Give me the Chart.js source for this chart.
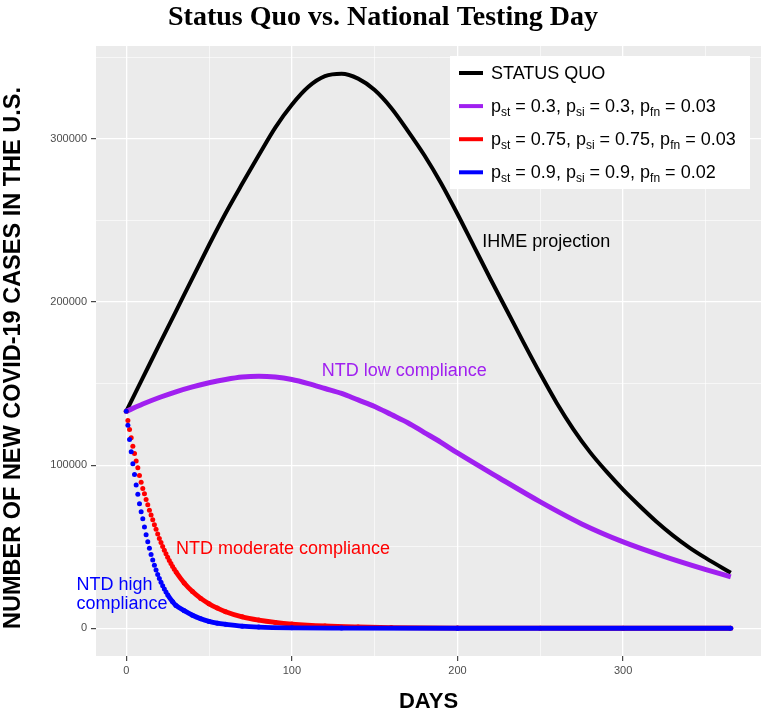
<!DOCTYPE html>
<html lang="en">
<head>
<meta charset="UTF-8">
<title>Status Quo vs. National Testing Day</title>
<script src="https://cdn.jsdelivr.net/npm/chart.js@4"></script>
<style>
    html, body { margin: 0; padding: 0; background: #ffffff; }
    #wrap { width: 765px; height: 713px; }
</style>
</head>
<body>
<div id="wrap"><canvas id="chart" width="765" height="713"></canvas></div>
<script>
    // values (new cases per day)
    const sqDays = [0, 10, 20, 35, 50, 60, 70, 80, 90, 100, 110, 120, 130, 140, 150, 160, 170, 180, 190, 200,
                    210, 220, 230, 240, 250, 260, 270, 280, 290, 300, 310, 320, 330, 340, 350, 365];
    const sqCases = [133000, 153500, 174000, 204500, 235000, 254500, 272500, 290000, 307000, 321000, 332000,
                     338500, 340000, 337000, 330000, 319000, 305000, 290000, 273000, 254000, 234000, 214000,
                     194500, 175000, 156000, 138000, 122000, 108000, 96000, 85000, 75000, 65500, 57000,
                     49500, 43000, 34000];

    const lowDays = [0, 10, 20, 30, 40, 50, 60, 70, 80, 90, 100, 110, 120, 130, 140, 150, 160, 170, 180, 190,
                     200, 225, 250, 275, 300, 325, 350, 365];
    const lowCases = [133000, 137500, 141500, 145000, 148000, 150500, 152500, 154000, 154500, 154000, 152500,
                      150000, 147000, 144000, 140000, 136000, 131000, 126000, 120000, 114000, 107500, 92300,
                      77500, 64000, 53000, 44000, 36000, 31500];

    const modDays = [0, 1, 2, 3, 4, 5, 6, 7, 8, 9, 10, 11, 12, 13, 14, 15, 16, 17, 18, 19, 20, 21, 22, 23, 24,
                     25, 26, 27, 28, 29, 30, 35, 40, 45, 50, 55, 60, 70, 80, 90, 100, 120, 140, 160, 200, 250,
                     300, 365];
    const modCases = [133000, 127400, 121900, 116800, 111600, 107200, 102500, 98400, 93700, 89600, 85700,
                      82500, 79000, 75700, 72300, 69400, 66500, 63500, 60700, 57800, 55100, 52600, 50200,
                      47900, 45700, 43600, 41600, 39700, 37900, 36200, 34600, 27800, 22500, 18300, 15000,
                      12400, 10200, 7000, 5000, 3600, 2600, 1400, 800, 450, 150, 50, 0, 0];

    const highDays = [0, 1, 2, 3, 4, 5, 6, 7, 8, 9, 10, 11, 12, 13, 14, 15, 16, 17, 18, 19, 20, 21, 22, 23, 24,
                      25, 28, 30, 35, 40, 45, 50, 55, 60, 70, 80, 100, 130, 200, 365];
    const highCases = [133000, 124500, 115700, 108200, 100800, 94300, 87800, 82100, 76400, 71400, 67200,
                       62100, 57400, 53000, 49000, 45300, 41800, 38700, 35700, 33000, 30500, 28200, 26000,
                       24100, 22200, 20500, 16200, 14000, 10800, 8000, 5800, 4200, 3100, 2400, 1300, 750,
                       300, 100, 0, 0];

    const seriesColors = ['#000000', '#A020F0', '#FF0000', '#0000FF'];

    // legend rows: [text, is subscript]
    const legendLabels = [
        [['STATUS QUO', 0]],
        [['p', 0], ['st', 1], [' = 0.3, p', 0], ['si', 1], [' = 0.3, p', 0], ['fn', 1], [' = 0.03', 0]],
        [['p', 0], ['st', 1], [' = 0.75, p', 0], ['si', 1], [' = 0.75, p', 0], ['fn', 1], [' = 0.03', 0]],
        [['p', 0], ['st', 1], [' = 0.9, p', 0], ['si', 1], [' = 0.9, p', 0], ['fn', 1], [' = 0.02', 0]]
    ];

    // curve labels, anchored in data units (left edge, vertical middle)
    const notes = [
        { text: 'IHME projection', day: 215, cases: 237000, series: 0 },
        { text: 'NTD low compliance', day: 118, cases: 157500, series: 1 },
        { text: 'NTD moderate compliance', day: 30, cases: 48500, series: 2 },
        { text: 'NTD high', day: -30, cases: 26500, series: 3 },
        { text: 'compliance', day: -30, cases: 15000, series: 3 }
    ];

    const xMajor = [0, 100, 200, 300];
    const xMinor = [50, 150, 250, 350];
    const yMajor = [0, 100000, 200000, 300000];
    const yMinor = [50000, 150000, 250000, 350000];

    const SANS = '"Liberation Sans", Arial, sans-serif';
    const SERIF = '"Liberation Serif", "Times New Roman", serif';

    function pts(days, vals) {
        return days.map((d, i) => ({ x: d, y: vals[i] }));
    }

    function gridTicks(major, minor) {
        return major.concat(minor).sort((a, b) => a - b).map(v => ({ value: v }));
    }

    // dots only where the points are a day apart, a solid band elsewhere
    function dotted(color) {
        return ctx => (ctx.p1.parsed.x - ctx.p0.parsed.x <= 1 ? 'rgba(0,0,0,0)' : color);
    }

    const ggPlugin = {
        id: 'gg',
        beforeDraw(chart) {
            const { ctx, chartArea: a } = chart;
            ctx.save();
            ctx.fillStyle = '#ffffff';
            ctx.fillRect(0, 0, chart.width, chart.height);
            ctx.fillStyle = '#EBEBEB';
            ctx.fillRect(a.left, a.top, a.right - a.left, a.bottom - a.top);
            ctx.restore();
        },
        afterDatasetsDraw(chart) {
            const { ctx, chartArea: a, scales } = chart;
            ctx.save();

            // curve labels
            ctx.font = '18px ' + SANS;
            ctx.textAlign = 'left';
            ctx.textBaseline = 'middle';
            notes.forEach(n => {
                ctx.fillStyle = seriesColors[n.series];
                ctx.fillText(n.text, scales.x.getPixelForValue(n.day), scales.y.getPixelForValue(n.cases));
            });

            // legend box
            const bw = 300, bh = 133;
            const bx = a.right - 11 - bw, by = a.top + 10;
            ctx.fillStyle = '#ffffff';
            ctx.fillRect(bx, by, bw, bh);
            legendLabels.forEach((parts, i) => {
                const cy = by + 17 + i * 33.1;
                ctx.strokeStyle = seriesColors[i];
                ctx.lineWidth = 4;
                ctx.beginPath();
                ctx.moveTo(bx + 9, cy);
                ctx.lineTo(bx + 33, cy);
                ctx.stroke();
                let tx = bx + 41;
                ctx.fillStyle = '#000000';
                ctx.textBaseline = 'alphabetic';
                parts.forEach(([t, sub]) => {
                    ctx.font = (sub ? '12px ' : '18px ') + SANS;
                    ctx.fillText(t, tx, cy + (sub ? 10 : 6));
                    tx += ctx.measureText(t).width;
                });
            });
            ctx.restore();
        },
        afterDraw(chart) {
            const { ctx, chartArea: a } = chart;
            ctx.save();
            ctx.fillStyle = '#000000';
            ctx.textAlign = 'center';
            ctx.textBaseline = 'alphabetic';
            ctx.font = 'bold 28px ' + SERIF;
            ctx.fillText('Status Quo vs. National Testing Day', 383, 25);

            ctx.font = 'bold 22px ' + SANS;
            ctx.fillText('DAYS', (a.left + a.right) / 2, 708);

            ctx.translate(14, 358);
            ctx.rotate(-Math.PI / 2);
            ctx.textBaseline = 'middle';
            ctx.font = 'bold 23.5px ' + SANS;
            ctx.fillText('NUMBER OF NEW COVID-19 CASES IN THE U.S.', 0, 0);
            ctx.restore();
        }
    };

    function gridOpts(major) {
        return {
            color: '#ffffff',
            lineWidth: c => (c.tick && major.includes(c.tick.value) ? 1.3 : 0.6),
            tickColor: c => (c.tick && major.includes(c.tick.value) ? '#333333' : 'rgba(0,0,0,0)'),
            tickWidth: 1.1,
            tickLength: 5,
            drawTicks: true
        };
    }

    new Chart(document.getElementById('chart'), {
        type: 'line',
        data: {
            datasets: [
                {
                    label: 'STATUS QUO', data: pts(sqDays, sqCases), borderColor: seriesColors[0],
                    borderWidth: 4, pointRadius: 0, cubicInterpolationMode: 'monotone', order: 4
                },
                {
                    label: 'low', data: pts(lowDays, lowCases), borderColor: seriesColors[1],
                    borderWidth: 5, pointRadius: 0, cubicInterpolationMode: 'monotone', order: 3
                },
                {
                    label: 'moderate', data: pts(modDays, modCases), borderColor: seriesColors[2],
                    backgroundColor: seriesColors[2], borderWidth: 4.8, pointRadius: 2.5, pointBorderWidth: 0,
                    cubicInterpolationMode: 'monotone', segment: { borderColor: dotted(seriesColors[2]) }, order: 2
                },
                {
                    label: 'high', data: pts(highDays, highCases), borderColor: seriesColors[3],
                    backgroundColor: seriesColors[3], borderWidth: 4.8, pointRadius: 2.5, pointBorderWidth: 0,
                    cubicInterpolationMode: 'monotone', segment: { borderColor: dotted(seriesColors[3]) }, order: 1
                }
            ]
        },
        options: {
            responsive: false,
            animation: false,
            layout: { padding: { top: 46, right: 2, left: 0, bottom: 0 } },
            plugins: { legend: { display: false }, tooltip: { enabled: false }, title: { display: false } },
            scales: {
                x: {
                    type: 'linear', min: -18.25, max: 383.25,
                    afterBuildTicks: s => { s.ticks = gridTicks(xMajor, xMinor); },
                    afterFit: s => { s.height = 57; },
                    ticks: {
                        callback: v => (xMajor.includes(v) ? String(v) : ''),
                        font: { family: SANS, size: 11 }, color: '#4D4D4D', padding: 3, maxRotation: 0
                    },
                    grid: gridOpts(xMajor),
                    border: { display: false }
                },
                y: {
                    type: 'linear', min: -17000, max: 357000,
                    afterBuildTicks: s => { s.ticks = gridTicks(yMajor, yMinor); },
                    afterFit: s => { s.width = 96; },
                    ticks: {
                        callback: v => (yMajor.includes(v) ? String(v) : ''),
                        font: { family: SANS, size: 11 }, color: '#4D4D4D', padding: 4
                    },
                    grid: gridOpts(yMajor),
                    border: { display: false }
                }
            }
        },
        plugins: [ggPlugin]
    });
</script>
</body>
</html>
